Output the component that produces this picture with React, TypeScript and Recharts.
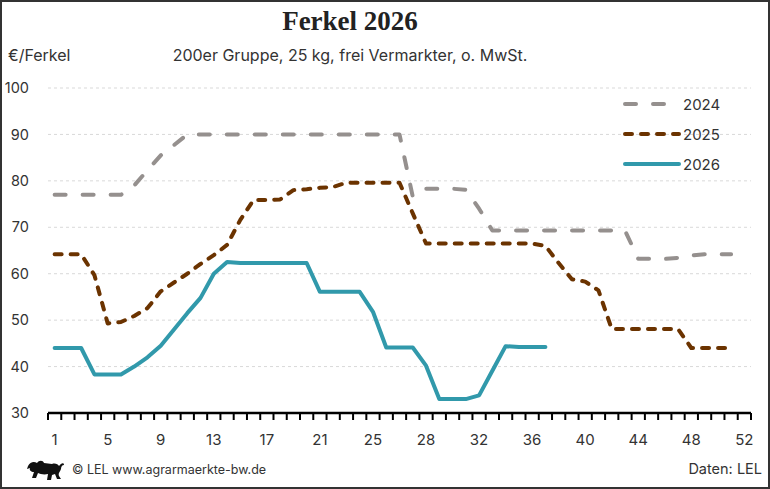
import React from 'react';
import { LineChart, Line, XAxis, YAxis, CartesianGrid, Legend } from 'recharts';

// index 1..53 on the x axis (one week is listed twice in the source table)
const weekLabels = [
  '1', '2', '3', '4', '5', '6', '7', '8', '9', '10', '11', '12', '13', '14', '15', '16', '17', '18',
  '19', '20', '21', '22', '23', '24', '25', '26', '27', '27', '28', '29', '30', '31', '32', '33', '34',
  '35', '36', '37', '38', '39', '40', '41', '42', '43', '44', '45', '46', '47', '48', '49', '50', '51', '52',
];
const shownLabelEvery = 4;

const prices2024 = [
  77, 77, 77, 77, 77, 77, 79, 82.3, 85.5, 87.7, 90, 90, 90, 90, 90, 90, 90, 90, 90, 90, 90, 90, 90, 90, 90, 90, 90,
  76.6, 78.3, 78.3, 78.3, 78.1, 74, 69.3, 69.3, 69.3, 69.3, 69.3, 69.3, 69.3, 69.3, 69.3, 69.3, 69.3,
  63.2, 63.2, 63.2, 63.4, 63.9, 64.2, 64.2, 64.2,
];
const prices2025 = [
  64.2, 64.2, 64.2, 59.7, 49.3, 49.6, 50.9, 52.6, 56.2, 58.1, 60, 62.1, 64, 66.2, 71.6, 75.9, 75.9, 76,
  78, 78.2, 78.5, 78.7, 79.6, 79.6, 79.6, 79.6, 79.6, 73, 66.5, 66.5, 66.5, 66.5, 66.5, 66.5, 66.5, 66.5, 66.5,
  66, 62.3, 58.8, 58.3, 56.4, 48.1, 48.1, 48.1, 48.1, 48.1, 48.1, 44, 44, 44, 44,
];
const prices2026 = [
  44, 44, 44, 38.3, 38.3, 38.3, 40, 42, 44.5, 48, 51.5, 54.8, 60, 62.5, 62.3, 62.3, 62.3, 62.3, 62.3, 62.3,
  56.1, 56.1, 56.1, 56.1, 51.8, 44.1, 44.1, 44.1, 40.2, 33, 33, 33, 33.8, 39.1, 44.4, 44.2, 44.2, 44.2,
];

const yTicks = [30, 40, 50, 60, 70, 80, 90, 100];

const data = weekLabels.map((label, i) => ({
  idx: i + 1,
  label,
  y2024: prices2024[i],
  y2025: prices2025[i],
  y2026: prices2026[i],
}));

const boundaryTicks = weekLabels.map((_, i) => i + 0.5).concat(weekLabels.length + 0.5);

const W = 770;
const H = 489;
const MARGIN = { top: 88, right: 19, left: 8, bottom: 46 };
const Y_AXIS_W = 40;
const PLOT_W = W - MARGIN.left - MARGIN.right - Y_AXIS_W;
const HALF_BAND = PLOT_W / weekLabels.length / 2;

const TEXT = '#333333';
const SANS = 'Inter, Roboto, sans-serif';

const series = [
  { key: 'y2024', name: '2024', color: '#95908e', dash: '11 17' },
  { key: 'y2025', name: '2025', color: '#6b3300', dash: '7 9' },
  { key: 'y2026', name: '2026', color: '#3199ab', dash: undefined as string | undefined },
];

const WeekTick = (props: any) => {
  const { x, y, payload } = props;
  const idx = payload.value + 0.5;
  if (idx > weekLabels.length || (idx - 1) % shownLabelEvery !== 0) return null;
  return (
    <text x={x + HALF_BAND} y={y} dy="0.71em" textAnchor="middle" fontSize={15} fill={TEXT} fontFamily={SANS}>
      {weekLabels[idx - 1]}
    </text>
  );
};

const LegendBox = () => (
  <div style={{ fontFamily: SANS }}>
    {series.map((s) => (
      <div key={s.key} style={{ display: 'flex', alignItems: 'center', height: 30 }}>
        <svg width={60} height={12}>
          <line
            x1={2}
            x2={56}
            y1={6}
            y2={6}
            stroke={s.color}
            strokeWidth={4}
            strokeLinecap="round"
            strokeDasharray={s.dash}
          />
        </svg>
        <span style={{ fontSize: 15, color: TEXT }}>{s.name}</span>
      </div>
    ))}
  </div>
);

const Lion = () => (
  <svg width={40} height={26} viewBox="0 0 40 26" style={{ position: 'absolute', left: 25, top: 457 }}>
    <path
      fill="#111"
      d="M3 9 C5 5 9 4 12 6 C14 3 18 3 19 6 L27 7 C30 6 33 7 34 9 C36 6 39 5 39 8 C37 8 36 10 36 12 C35 15 33 16 34 19 L36 22 L32 22 L30 17 L27 18 L26 23 L22 23 L23 17 C19 18 15 17 13 16 L11 21 L7 21 L9 15 C6 15 4 13 5 11 L2 12 Z"
    />
  </svg>
);

export default function App() {
  return (
    <div style={{ position: 'absolute', left: 0, top: 0, width: W, height: H, background: '#fff' }}>
      <LineChart width={W} height={H} data={data} margin={MARGIN}>
        <CartesianGrid vertical={false} stroke="#d9d9d9" strokeDasharray="3 3" />
        <XAxis
          dataKey="idx"
          type="number"
          domain={[0.5, weekLabels.length + 0.5]}
          ticks={boundaryTicks}
          interval={0}
          height={30}
          tickSize={7}
          tickMargin={14}
          axisLine={{ stroke: '#000', strokeWidth: 2.5 }}
          tickLine={{ stroke: '#000', strokeWidth: 2 }}
          tick={<WeekTick />}
        />
        <YAxis
          domain={[30, 100]}
          ticks={yTicks}
          width={Y_AXIS_W}
          axisLine={false}
          tickLine={false}
          tickSize={0}
          tickMargin={19}
          tick={{ fontSize: 14.5, fill: TEXT, fontFamily: SANS }}
        />
        <Legend
          layout="vertical"
          align="center"
          verticalAlign="middle"
          content={<LegendBox />}
          wrapperStyle={{ top: 89, left: 623, width: 130 }}
        />
        {series.map((s) => (
          <Line
            key={s.key}
            dataKey={s.key}
            name={s.name}
            type="linear"
            stroke={s.color}
            strokeWidth={4}
            strokeDasharray={s.dash}
            strokeLinecap="round"
            strokeLinejoin="round"
            dot={false}
            activeDot={false}
            isAnimationActive={false}
          />
        ))}
      </LineChart>

      <div
        style={{
          position: 'absolute', left: 0, top: 6, width: 700, textAlign: 'center',
          fontFamily: '"Liberation Serif", serif', fontWeight: 'bold', fontSize: 27, color: '#222',
        }}
      >
        Ferkel 2026
      </div>
      <div style={{ position: 'absolute', left: 8, top: 45, fontFamily: SANS, fontSize: 16, color: TEXT }}>
        €/Ferkel
      </div>
      <div
        style={{
          position: 'absolute', left: 0, top: 45, width: 700, textAlign: 'center',
          fontFamily: SANS, fontSize: 16, color: TEXT,
        }}
      >
        200er Gruppe, 25 kg, frei Vermarkter, o. MwSt.
      </div>
      <Lion />
      <div style={{ position: 'absolute', left: 72, top: 462, fontFamily: SANS, fontSize: 12.5, color: TEXT }}>
        © LEL www.agrarmaerkte-bw.de
      </div>
      <div style={{ position: 'absolute', right: 8, top: 460, fontFamily: SANS, fontSize: 14.5, color: TEXT }}>
        Daten: LEL
      </div>
      <div
        style={{
          position: 'absolute', left: 0, top: 0, width: W, height: H, boxSizing: 'border-box',
          border: '2px solid #333', pointerEvents: 'none',
        }}
      />
    </div>
  );
}
